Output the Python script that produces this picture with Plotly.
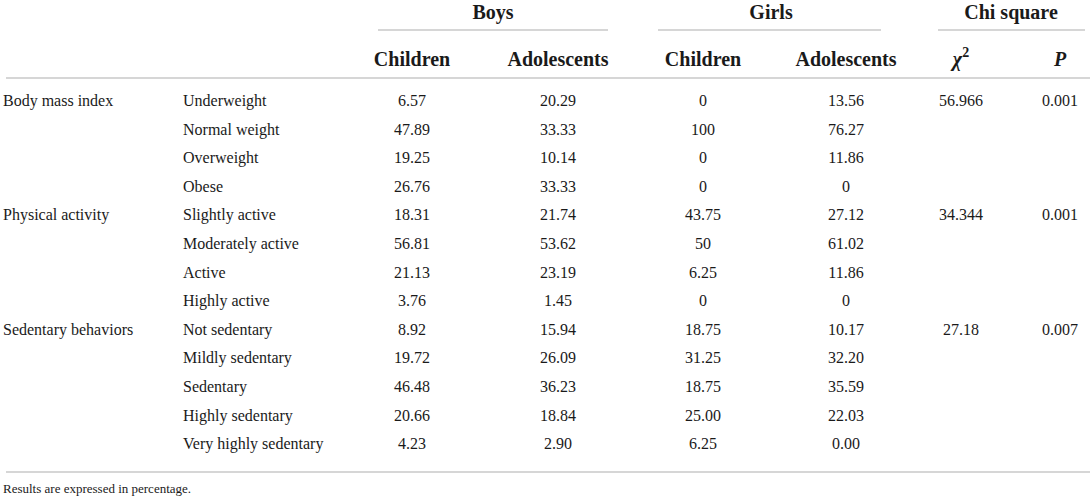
import plotly.graph_objects as go

# 표 데이터
categories = ["Body mass index", "", "", "", "Physical activity", "", "", "",
              "Sedentary behaviors", "", "", "", ""]
subcategories = ["Underweight", "Normal weight", "Overweight", "Obese",
                 "Slightly active", "Moderately active", "Active", "Highly active",
                 "Not sedentary", "Mildly sedentary", "Sedentary", "Highly sedentary",
                 "Very highly sedentary"]
boys_children = ["6.57", "47.89", "19.25", "26.76", "18.31", "56.81", "21.13", "3.76",
                 "8.92", "19.72", "46.48", "20.66", "4.23"]
boys_adolescents = ["20.29", "33.33", "10.14", "33.33", "21.74", "53.62", "23.19", "1.45",
                    "15.94", "26.09", "36.23", "18.84", "2.90"]
girls_children = ["0", "100", "0", "0", "43.75", "50", "6.25", "0",
                  "18.75", "31.25", "18.75", "25.00", "6.25"]
girls_adolescents = ["13.56", "76.27", "11.86", "0", "27.12", "61.02", "11.86", "0",
                     "10.17", "32.20", "35.59", "22.03", "0.00"]
chi_square = ["56.966", "", "", "", "34.344", "", "", "", "27.18", "", "", "", ""]
p_values = ["0.001", "", "", "", "0.001", "", "", "", "0.007", "", "", "", ""]

group_labels = ["Boys", "Girls", "Chi square"]
sub_labels = ["Children", "Adolescents", "Children", "Adolescents",
              "<i>χ</i><sup>2</sup>", "<i>P</i>"]
footnote = "Results are expressed in percentage."

# 레이아웃 설정 (픽셀 x, 행 단위 y)
FONT = "Liberation Serif"
TXT = "#1a1a1a"
LINE = "#c8c8c8"
rows = list(range(len(subcategories)))
col_x = [409, 555, 700, 843, 958, 1057]
group_x = [490, 768, 1008]
group_lines = [(375, 605), (655, 878), (935, 1082)]
y_group, y_group_line, y_sub, y_head_line = -3.07, -2.52, -1.45, -0.84
y_bottom_line, y_foot = 12.94, 13.57

fig = go.Figure()


def add_text(x, y, text, pos="middle center", size=16, weight="normal"):
    # 빈 셀은 그리지 않음
    keep = [i for i, t in enumerate(text) if t]
    fig.add_trace(go.Scatter(
        x=[x[i] for i in keep], y=[y[i] for i in keep], text=[text[i] for i in keep],
        mode="text", textposition=pos,
        textfont=dict(family=FONT, size=size, color=TXT, weight=weight),
        hoverinfo="skip", showlegend=False
    ))


add_text([0] * len(rows), rows, categories, pos="middle right")
add_text([180] * len(rows), rows, subcategories, pos="middle right")
for cx, col in zip(col_x, [boys_children, boys_adolescents, girls_children,
                           girls_adolescents, chi_square, p_values]):
    add_text([cx] * len(rows), rows, col)

# 헤더
add_text(group_x, [y_group] * 3, group_labels, size=20, weight="bold")
add_text(col_x, [y_sub] * 6, sub_labels, size=20, weight="bold")
add_text([0], [y_foot], [footnote], pos="middle right", size=13)

# 구분선
for x0, x1 in group_lines:
    fig.add_shape(type="line", x0=x0, x1=x1, y0=y_group_line, y1=y_group_line,
                  line=dict(color=LINE, width=1.5))
for yl in [y_head_line, y_bottom_line]:
    fig.add_shape(type="line", x0=3, x1=1087, y0=yl, y1=yl,
                  line=dict(color=LINE, width=1.5))

fig.update_layout(
    width=1091, height=501,
    margin=dict(l=0, r=0, t=0, b=0),
    paper_bgcolor="white", plot_bgcolor="white",
    xaxis=dict(range=[-3, 1088], visible=False, fixedrange=True),
    yaxis=dict(range=[13.95, -3.57], visible=False, fixedrange=True),
)

fig.write_html(
    "out.html",
    config={"displayModeBar": False},
    post_script="document.body.style.margin='0';",
)
